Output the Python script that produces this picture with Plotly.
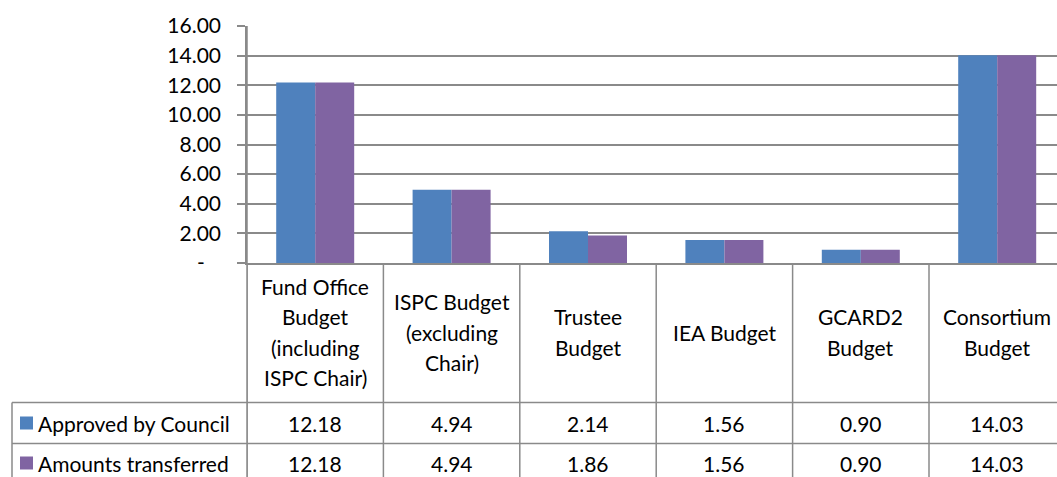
import plotly.graph_objects as go

categories = ["Fund Office<br>Budget<br>(including<br>ISPC Chair)",
              "ISPC Budget<br>(excluding<br>Chair)",
              "Trustee<br>Budget",
              "IEA Budget",
              "GCARD2<br>Budget",
              "Consortium<br>Budget"]
series_names = ["Approved by Council", "Amounts transferred"]
approved = [12.18, 4.94, 2.14, 1.56, 0.90, 14.03]
transferred = [12.18, 4.94, 1.86, 1.56, 0.90, 14.03]
tick_vals = [0, 2, 4, 6, 8, 10, 12, 14, 16]
tick_text = ["-\u00a0\u00a0\u00a0", "2.00", "4.00", "6.00", "8.00", "10.00", "12.00", "14.00", "16.00"]
colors = ["#4F81BD", "#8064A2"]

FONT = "Lato"
FS = 21
GRID = "#8a8a8a"

# pixel geometry
W, H = 1057, 477
L, R, T, B = 247, 0, 26, 214
PW = W - L - R
PH = H - T - B
cat_w = 136.4
xs = list(range(len(categories)))


def xp(px):
    return (px - L) / PW


def yp(py):
    return (H - B - py) / PH


fig = go.Figure()
for name, vals, c in zip(series_names, [approved, transferred], colors):
    fig.add_trace(go.Bar(x=xs, y=vals, name=name, marker=dict(color=c, line=dict(width=0)),
                         showlegend=False, hoverinfo="skip"))

shapes = []
annotations = []
# vertical column lines of the table
for i in range(len(categories) + 1):
    shapes.append(dict(type="line", xref="x", yref="paper", x0=i - 0.5, x1=i - 0.5,
                       y0=0, y1=yp(H + 5), line=dict(color=GRID, width=1.5)))
# left edge line of plot/table
shapes.append(dict(type="line", xref="paper", yref="paper", x0=0, x1=0,
                   y0=1, y1=yp(H + 5), line=dict(color=GRID, width=1.5)))
# horizontal lines of the table
row_lines = [402.5, 443.5, 485]
for ry in row_lines:
    shapes.append(dict(type="line", xref="paper", yref="paper", x0=xp(12), x1=1,
                       y0=yp(ry), y1=yp(ry), line=dict(color=GRID, width=1.5)))
# legend column left line
shapes.append(dict(type="line", xref="paper", yref="paper", x0=xp(12), x1=xp(12),
                   y0=yp(402.5), y1=yp(H + 5), line=dict(color=GRID, width=1.5)))

# headers (one annotation per line, 30px line spacing, block centred in header row)
LINE_H = 30.5
HEADER_MID = 332
for i, cat in enumerate(categories):
    lines = cat.split("<br>")
    n = len(lines)
    for k, ln in enumerate(lines):
        cy = HEADER_MID + (k - (n - 1) / 2) * LINE_H
        annotations.append(dict(x=i, y=yp(cy), xref="x", yref="paper", text=ln, showarrow=False,
                                xanchor="center", yanchor="middle", align="center",
                                font=dict(family=FONT, size=FS, color="#000000")))
# values
row_centers = [423, 463]
for r, (vals, name, c) in enumerate(zip([approved, transferred], series_names, colors)):
    for i, v in enumerate(vals):
        annotations.append(dict(x=i, y=yp(row_centers[r]), xref="x", yref="paper",
                                text=f"{v:.2f}", showarrow=False, xanchor="center",
                                yanchor="middle",
                                font=dict(family=FONT, size=FS, color="#000000")))
    annotations.append(dict(x=xp(36), y=yp(row_centers[r]), xref="paper", yref="paper",
                            text=name, showarrow=False, xanchor="left", yanchor="middle",
                            font=dict(family=FONT, size=FS, color="#000000")))
    shapes.append(dict(type="rect", xref="paper", yref="paper", x0=xp(20), x1=xp(33),
                       y0=yp(row_centers[r] - 6.5), y1=yp(row_centers[r] + 6.5),
                       fillcolor=c, line=dict(width=0)))

fig.update_layout(
    width=W, height=H,
    margin=dict(l=L, r=R, t=T, b=B, pad=0),
    paper_bgcolor="white", plot_bgcolor="white",
    barmode="group", bargap=1 - 78 / cat_w, bargroupgap=0,
    shapes=shapes, annotations=annotations,
    font=dict(family=FONT, size=FS, color="#000000"),
    xaxis=dict(range=[-0.5, -0.5 + PW / cat_w], showticklabels=False, showgrid=False,
               zeroline=False, showline=True, linecolor=GRID, linewidth=1.5, ticks=""),
    yaxis=dict(range=[0, 16], tickvals=tick_vals, ticktext=tick_text, showgrid=True,
               gridcolor=GRID, gridwidth=1.5, zeroline=False, showline=True,
               linecolor=GRID, linewidth=1.5, ticks="outside", ticklen=8, tickcolor=GRID,
               tickwidth=1.5, ticklabelstandoff=12,
               tickfont=dict(family=FONT, size=FS, color="#000000")),
)

fig.write_html("out.html", config={"displayModeBar": False},
               post_script="document.body.style.margin='0px';document.body.style.overflow='hidden';")
